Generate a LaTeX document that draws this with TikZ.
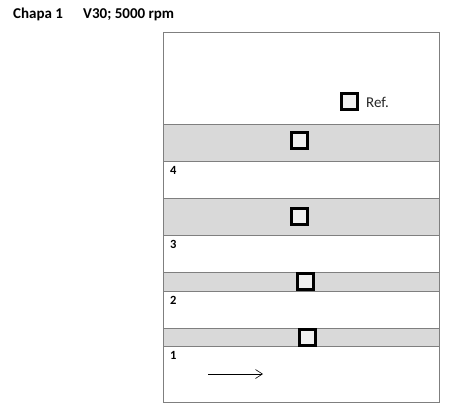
\documentclass[tikz,border=0pt]{standalone}
\usepackage{fontspec}
\setmainfont{Carlito}
\usetikzlibrary{arrows.meta}
\definecolor{bandgray}{HTML}{D9D9D9}
\definecolor{probegray}{HTML}{F0F0F0}
\definecolor{framegray}{HTML}{7F7F7F}
\begin{document}
\begin{tikzpicture}[x=1pt,y=-1pt,
    band/.style={draw=framegray,fill=bandgray,line width=0.8pt},
    probe/.style={draw=black,fill=probegray,line width=3pt,minimum size=16pt,inner sep=0pt},
    zone/.style={font=\bfseries\fontsize{12.5}{14}\selectfont,anchor=base west,inner sep=0pt}]
    \useasboundingbox (0,0) rectangle (450,408);
    % title
    \node[anchor=base west,inner sep=0pt,font=\bfseries\fontsize{15}{17}\selectfont] (chapa) at (13,18) {Chapa 1};
    \node[anchor=base west,inner sep=0pt,font=\bfseries\fontsize{15}{17}\selectfont] (speed) at (83,18) {V30; 5000 rpm};
    % sheet and grey strips
    \draw [framegray,line width=0.8pt] (163,32) rectangle (439,402);
    \draw [band] (163,124) rectangle (439,161);
    \draw [band] (163,198) rectangle (439,235);
    \draw [band] (163,272) rectangle (439,291);
    \draw [band] (163,328) rectangle (439,346);
    % gauges
    \node [probe] (gref) at (349.5,101.5) {};
    \node [anchor=base west,inner sep=0pt,font=\fontsize{15}{17}\selectfont,text=black!85] (ref) at (366,107) {Ref.};
    \node [probe] (g4) at (299.5,140) {};
    \node [probe] (g3) at (299.5,216.5) {};
    \node [probe] (g2) at (305.5,281.5) {};
    \node [probe] (g1) at (307.5,337) {};
    % zone numbers
    \node [zone] (z4) at (170,174) {4};
    \node [zone] (z3) at (170,248) {3};
    \node [zone] (z2) at (170,304) {2};
    \node [zone] (z1) at (170,359) {1};
    % rolling direction
    \coordinate (dirA) at (208,374);
    \coordinate (dirB) at (263,374);
    \draw [line width=0.6pt,-{Straight Barb[length=7pt,width=9pt]}] (dirA) -- (dirB);
\end{tikzpicture}
\end{document}
